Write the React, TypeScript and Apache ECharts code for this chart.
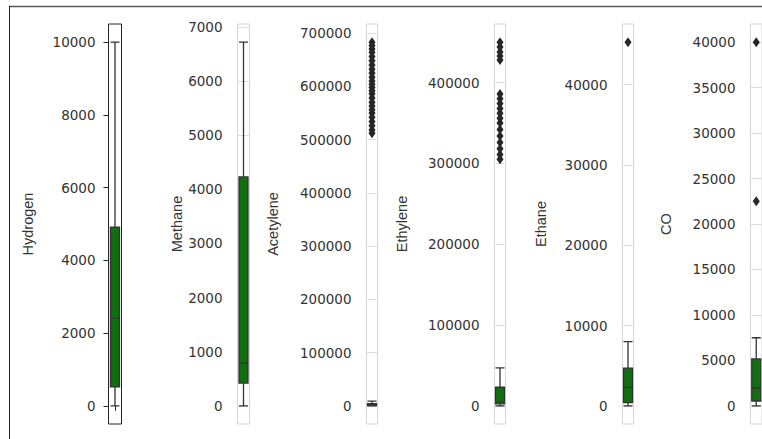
import React, { useEffect, useRef } from "react";
import * as echarts from "echarts";

// Column names (y-axis titles)
const columns = ["Hydrogen", "Methane", "Acetylene", "Ethylene", "Ethane", "CO"];

// Box statistics: [lower whisker, Q1, median, Q3, upper whisker]
const hydrogenBox = [0, 520, 2410, 4910, 10000];
const methaneBox = [0, 420, 790, 4230, 6720];
const acetyleneBox = [0, 500, 1500, 4000, 9000];
const ethyleneBox = [0, 2500, 4500, 23000, 47000];
const ethaneBox = [0, 400, 2300, 4700, 8000];
const coBox = [0, 530, 1960, 5160, 7490];

// Outliers
const hydrogenOut: number[] = [];
const methaneOut: number[] = [];
const acetyleneOut = [512000, 518000, 526000, 534000, 542000, 550000, 556000, 563000, 570000, 578000, 586000, 592000, 598000, 604000, 610000, 617000, 625000, 632000, 640000, 648000, 656000, 664000, 670000, 677000, 683000];
const ethyleneOut = [305000, 311000, 318000, 326000, 334000, 342000, 350000, 356000, 362000, 368000, 374000, 380000, 386000, 428000, 433000, 438000, 444000, 450000];
const ethaneOut = [45300];
const coOut = [22500, 40000];

// Tick labels
const hydrogenTicks = [0, 2000, 4000, 6000, 8000, 10000];
const methaneTicks = [0, 1000, 2000, 3000, 4000, 5000, 6000, 7000];
const acetyleneTicks = [0, 100000, 200000, 300000, 400000, 500000, 600000, 700000];
const ethyleneTicks = [0, 100000, 200000, 300000, 400000];
const ethaneTicks = [0, 10000, 20000, 30000, 40000];
const coTicks = [0, 5000, 10000, 15000, 20000, 25000, 30000, 35000, 40000];

const boxes = [hydrogenBox, methaneBox, acetyleneBox, ethyleneBox, ethaneBox, coBox];
const outliers = [hydrogenOut, methaneOut, acetyleneOut, ethyleneOut, ethaneOut, coOut];
const ticks = [hydrogenTicks, methaneTicks, acetyleneTicks, ethyleneTicks, ethaneTicks, coTicks];

// Layout (pixels)
const gridLefts = [108.5, 237.5, 366.5, 494.5, 622.5, 750.5];
const gridWidths = [13, 12, 11, 11, 11, 14];
const nameGaps = [73, 48, 86, 85, 74.5, 77];
const labelMargins = [13, 15, 15, 15, 15, 15];

export default function App() {
  const ref = useRef<HTMLDivElement>(null);
  useEffect(() => {
    if (!ref.current) return;
    const chart = echarts.init(ref.current, undefined, { renderer: "svg" });
    const TEXT = "#333333";
    const grid: any[] = [];
    const xAxis: any[] = [];
    const yAxis: any[] = [];
    const series: any[] = [];
    columns.forEach((name, i) => {
      const all = boxes[i].concat(outliers[i]);
      const lo = Math.min(...all);
      const hi = Math.max(...all);
      const pad = (hi - lo) * 0.05;
      const first = i === 0;
      grid.push({
        left: gridLefts[i],
        top: 24,
        width: gridWidths[i],
        height: 400,
        show: true,
        borderColor: first ? "#262626" : "#d6d6d6",
        borderWidth: 1,
        backgroundColor: "transparent",
      });
      xAxis.push({
        gridIndex: i,
        type: "category",
        data: [name],
        axisLabel: { show: false },
        axisLine: { show: false },
        axisTick: { show: first, alignWithLabel: true, length: 5, lineStyle: { color: "#262626" } },
        splitLine: { show: false },
      });
      yAxis.push({
        gridIndex: i,
        type: "value",
        min: lo - pad,
        max: hi + pad,
        name,
        nameLocation: "middle",
        nameRotate: 90,
        nameGap: nameGaps[i],
        nameTextStyle: { fontFamily: "Liberation Sans", fontSize: 14.5, color: TEXT },
        axisLine: { show: false },
        axisTick: {
          show: first,
          length: 5,
          customValues: ticks[i],
          lineStyle: { color: "#262626" },
        },
        axisLabel: {
          customValues: ticks[i],
          margin: labelMargins[i],
          fontFamily: "DejaVu Sans",
          fontSize: 13.5,
          color: TEXT,
          formatter: (v: number) => String(Math.round(v)),
        },
        splitLine: { show: !first, lineStyle: { color: "#dcdcdc", width: 1 } },
      });
      series.push({
        type: "boxplot",
        xAxisIndex: i,
        yAxisIndex: i,
        data: [boxes[i]],
        boxWidth: [9, 9],
        itemStyle: { color: "#107010", borderColor: "#333333", borderWidth: 1.3 },
        emphasis: { disabled: true },
        z: 3,
      });
      if (outliers[i].length) {
        series.push({
          type: "scatter",
          xAxisIndex: i,
          yAxisIndex: i,
          data: outliers[i].map((v) => [0, v]),
          symbol: "diamond",
          symbolSize: [7, 10],
          itemStyle: { color: "#262626", opacity: 1 },
          z: 4,
        });
      }
    });
    chart.setOption({
      animation: false,
      backgroundColor: "#ffffff",
      grid,
      xAxis,
      yAxis,
      series,
      graphic: [
        { type: "line", shape: { x1: 9, y1: 6.5, x2: 762, y2: 6.5 }, style: { stroke: "#5a5a5a", lineWidth: 1.5 } },
        { type: "line", shape: { x1: 9.5, y1: 6, x2: 9.5, y2: 439 }, style: { stroke: "#222222", lineWidth: 1 } },
      ],
    });
    return () => chart.dispose();
  }, []);
  return (
    <div
      ref={ref}
      style={{ position: "fixed", left: 0, top: 0, width: 762, height: 439, background: "#fff" }}
    />
  );
}
